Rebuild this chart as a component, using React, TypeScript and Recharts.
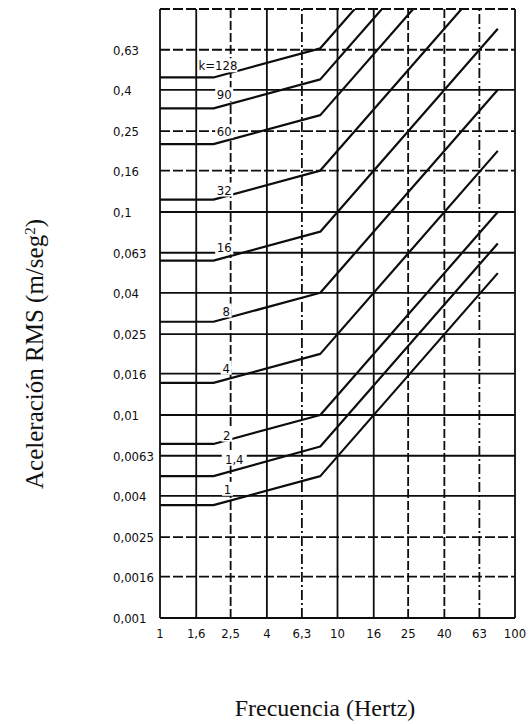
import React from 'react';
import { LineChart, Line, XAxis, YAxis, ReferenceLine, ReferenceDot } from 'recharts';

// tick values on both log axes
const freqTicks = [1, 1.6, 2.5, 4, 6.3, 10, 16, 25, 40, 63, 100];
const accelTicks = [0.001, 0.0016, 0.0025, 0.004, 0.0063, 0.01, 0.016, 0.025, 0.04, 0.063, 0.1, 0.16, 0.25, 0.4, 0.63];

// curves (one entry per k)
const curveNames = ['1', '1,4', '2', '4', '8', '16', '32', '60', '90', 'k=128'];
const flatLevels = [0.0036, 0.005, 0.0072, 0.0144, 0.0288, 0.0576, 0.115, 0.216, 0.324, 0.46];
const flatEndHz = [2, 2, 2, 2, 2, 2, 2, 2, 2, 2];
const kneeHz = [8, 8, 8, 8, 8, 8, 8, 8, 8, 8];
const kneeLevels = [0.005, 0.007, 0.01, 0.02, 0.04, 0.08, 0.16, 0.3, 0.45, 0.64];
const endHz = [80, 80, 80, 80, 80, 80, 50, 26.7, 17.8, 12.5];
const endLevels = [0.05, 0.07, 0.1, 0.2, 0.4, 0.8, 1, 1, 1, 1];

// where the k labels sit
const labelHz = [2.4, 2.62, 2.38, 2.36, 2.36, 2.3, 2.3, 2.3, 2.3, 2.12];
const labelLevels = [0.00433, 0.00609, 0.008, 0.0171, 0.0327, 0.0669, 0.129, 0.25, 0.38, 0.528];

const curves = curveNames.map((name, i) => ({
  name,
  points: [
    { f: 1, a: flatLevels[i] },
    { f: flatEndHz[i], a: flatLevels[i] },
    { f: kneeHz[i], a: kneeLevels[i] },
    { f: endHz[i], a: endLevels[i] },
  ],
}));

// scan look: some grid lines come out broken / dash-dotted
const vDash: Record<number, string | undefined> = {
  2.5: '9 3', 6.3: '10 3 2 3', 25: '9 3', 40: '9 3', 63: '10 3 2 3',
};
const hDash: Record<number, string | undefined> = {
  0.0016: '10 3', 0.0025: '10 3', 0.16: '10 3', 0.25: '10 3', 0.63: '10 3', 1: '10 3',
};

const INK = '#0d0d0d';
const tickFont = "'DejaVu Sans Condensed', 'DejaVu Sans', sans-serif";
const titleFont = "'Liberation Serif', 'DejaVu Serif', serif";

const fmt = (v: number) => String(v).replace('.', ',');

const YTick = ({ y, payload }: any) => (
  <text x={113} y={y} dy={5} textAnchor="start" fontFamily={tickFont} fontStretch="condensed"
    fontSize={13} fill={INK}>
    {fmt(payload.value)}
  </text>
);

const XTick = ({ x, payload }: any) => (
  <text x={x} y={638} textAnchor="middle" fontFamily={tickFont} fontStretch="condensed"
    fontSize={13} fill={INK}>
    {fmt(payload.value)}
  </text>
);

const KLabel = (name: string) => (p: any) => {
  const w = name.length * 7 + 4;
  return (
    <g>
      <rect x={p.cx - w / 2} y={p.cy - 7} width={w} height={14} fill="#fff" />
      <text x={p.cx} y={p.cy} dy={5} textAnchor="middle" fontFamily={tickFont}
        fontStretch="condensed" fontSize={13} fill={INK}>
        {name}
      </text>
    </g>
  );
};

export default function App() {
  return (
    <div style={{ position: 'absolute', left: 0, top: 0, width: 530, height: 724, background: '#fff' }}>
      <LineChart width={530} height={724} margin={{ top: 9, right: 15, left: 100, bottom: 76 }}>
        <XAxis dataKey="f" type="number" scale="log" domain={[1, 100]} ticks={freqTicks}
          allowDataOverflow axisLine={false} tickLine={false} height={30} tick={<XTick />} />
        <YAxis dataKey="a" type="number" scale="log" domain={[0.001, 1]} ticks={accelTicks}
          allowDataOverflow axisLine={false} tickLine={false} width={60} tick={<YTick />} />

        {freqTicks.map((f) => (
          <ReferenceLine key={'v' + f} x={f} stroke={INK} strokeWidth={1.8}
            strokeDasharray={vDash[f]} ifOverflow="visible" />
        ))}
        {[...accelTicks, 1].map((a) => (
          <ReferenceLine key={'h' + a} y={a} stroke={INK} strokeWidth={1.8}
            strokeDasharray={hDash[a]} ifOverflow="visible" />
        ))}

        {curves.map((c) => (
          <Line key={c.name} data={c.points} dataKey="a" type="linear" stroke={INK}
            strokeWidth={2.2} strokeLinejoin="round" dot={false} activeDot={false}
            isAnimationActive={false} />
        ))}

        {curves.map((c, i) => (
          <ReferenceDot key={'l' + c.name} x={labelHz[i]} y={labelLevels[i]} r={0}
            shape={KLabel(c.name)} />
        ))}

        <text transform="translate(43,354) rotate(-90)" textAnchor="middle"
          fontFamily={titleFont} fontSize={25} fill="#111">
          Aceleración RMS (m/seg
          <tspan baselineShift="super" fontSize={15}>2</tspan>)
        </text>
        <text x={325} y={716} textAnchor="middle" fontFamily={titleFont} fontSize={24} fill="#111">
          Frecuencia (Hertz)
        </text>
      </LineChart>
    </div>
  );
}
